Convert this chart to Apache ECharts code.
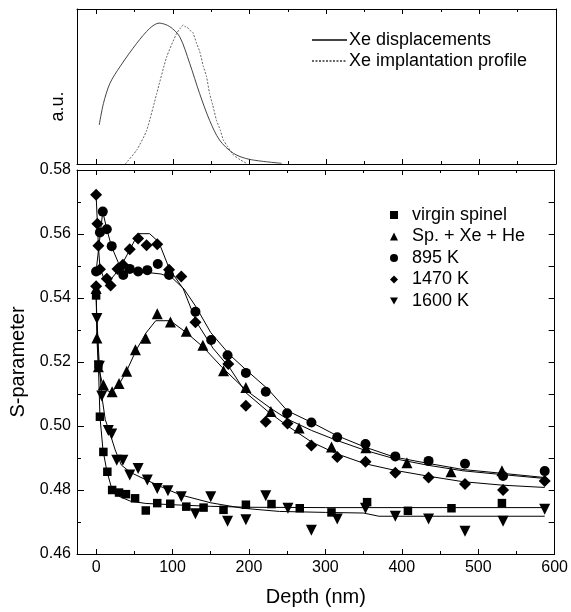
<!DOCTYPE html>
<html><head><meta charset="utf-8">
<script src="https://cdn.jsdelivr.net/npm/echarts@6/dist/echarts.min.js"></script>
<style>html,body{margin:0;padding:0;background:#fff}#c{width:571px;height:612px}</style>
</head><body><div id="c"></div>
<script>
// ---- data ----
const majorDepthTicks = [0, 100, 200, 300, 400, 500, 600];
const minorDepthTicks = [50, 150, 250, 350, 450, 550];

// top panel (arbitrary units) [depth nm, a.u.]
const xeDisplacements = [[4,0.277],[9.5,0.43],[18,0.573],[31,0.69],[53,0.857],[70,0.963],[82,1.0],[96,0.975],[109,0.903],[122,0.715],[135,0.50],[148,0.31],[161,0.17],[179,0.076],[200,0.033],[242,0.005]];
const xeImplantation = [[38,0],[53,0.10],[66,0.24],[79,0.50],[92,0.76],[105,0.927],[110,0.965],[113.7,0.987],[116,0.975],[119,0.97],[122,0.95],[126,0.935],[131,0.857],[135,0.80],[140,0.69],[144,0.62],[148,0.50],[152,0.42],[157,0.31],[162,0.24],[166,0.17],[172,0.12],[179,0.064],[188,0.03],[196,0.005]];

// bottom panel scatter [depth nm, S]
const virginSpinel = [[0,0.5408],[3,0.5192],[5,0.5029],[9.5,0.4919],[14.7,0.4857],[21,0.48],[30,0.4792],[39,0.4787],[51,0.4774],[65,0.4736],[80,0.4759],[97,0.4757],[118,0.4748],[140.6,0.4745],[166.7,0.4738],[196,0.4754],[229.5,0.4756],[266.5,0.4743],[308,0.473],[354.6,0.4762],[408,0.4735],[465,0.4743],[531,0.4759]];
const spXeHe = [[0,0.543],[1,0.5275],[3,0.5185],[9.5,0.5129],[21,0.5107],[30,0.5133],[40,0.5171],[51.5,0.5238],[65,0.5274],[80,0.5351],[97.3,0.5325],[118,0.5296],[139.7,0.5252],[166.7,0.5173],[196,0.512],[228.7,0.5045],[265.6,0.4994],[308,0.4934],[353,0.4932],[406.7,0.4885],[464.4,0.4857],[531,0.486]];
const k895 = [[0,0.5483],[5,0.5605],[8.7,0.567],[14,0.5615],[20.4,0.5562],[35.5,0.5472],[44,0.5491],[55,0.5483],[67,0.5487],[80.7,0.5506],[95.5,0.5472],[130,0.5357],[150.6,0.5269],[172,0.5221],[196,0.5166],[222,0.5107],[250,0.504],[281.7,0.5011],[315.5,0.4965],[352.5,0.4944],[391.5,0.4905],[435,0.4891],[482.7,0.4882],[532.5,0.4844],[587,0.4859]];
const k1470 = [[0,0.5723],[1.7,0.5632],[3,0.5563],[5,0.549],[0,0.5437],[14,0.546],[19,0.5439],[28,0.5491],[35,0.5504],[44,0.5552],[55,0.5586],[66,0.5565],[80,0.5568],[95.5,0.5488],[111.5,0.5467],[130,0.5324],[173,0.5194],[196,0.5063],[222,0.5013],[250.4,0.5008],[281.7,0.4939],[315.5,0.4903],[352.5,0.4888],[391.5,0.4854],[435,0.4839],[482.7,0.4819],[532.5,0.48],[587,0.4828]];
const k1600 = [[1,0.5336],[4.3,0.5187],[7.4,0.5094],[16,0.4986],[20.4,0.4975],[27,0.4893],[35,0.4893],[44,0.4847],[55,0.4867],[67,0.4831],[80,0.4805],[94,0.4798],[111.5,0.4779],[130,0.4726],[150,0.4779],[172,0.4702],[196,0.4707],[222,0.4782],[251,0.4743],[281.7,0.4674],[315.5,0.4709],[352.5,0.4743],[391.5,0.4718],[435,0.4709],[482.7,0.4671],[532.5,0.4702],[587,0.474]];

// fitted curves
const fitVirgin = [[0,0.5408],[3,0.5192],[5,0.503],[9,0.4925],[14,0.486],[20,0.4808],[30,0.478],[45,0.4765],[65,0.4758],[100,0.4754],[150,0.4749],[200,0.4746],[300,0.4745],[400,0.4745],[587,0.4745]];
const fitSpXeHe = [[0,0.543],[1,0.5275],[3,0.5185],[10,0.5115],[20,0.5105],[30,0.513],[40,0.5172],[52,0.5235],[65,0.529],[78,0.5329],[97,0.5329],[118,0.5292],[140,0.5247],[165,0.5183],[196,0.5112],[228,0.5056],[250,0.5022],[282,0.4986],[315,0.4955],[352,0.4924],[390,0.4898],[435,0.4877],[480,0.486],[532,0.4848],[587,0.4836]];
const fit895 = [[0,0.5483],[8.7,0.567],[14,0.5615],[20,0.5562],[30,0.5505],[40,0.5485],[55,0.548],[70,0.5479],[85,0.5475],[100,0.5462],[115,0.5428],[130,0.5375],[150,0.5292],[175,0.5222],[196,0.5176],[225,0.5115],[250,0.5048],[282,0.5011],[315,0.497],[352,0.4934],[390,0.4903],[435,0.4883],[480,0.4864],[532,0.4852],[587,0.4839]];
const fit1470 = [[0,0.5723],[1.7,0.5632],[3,0.5563],[5,0.5495],[10,0.5462],[15,0.5445],[25,0.5475],[35,0.551],[45,0.5555],[55,0.5601],[70,0.5601],[82,0.5575],[96,0.549],[114,0.5429],[131,0.5326],[153,0.5243],[175,0.5181],[196,0.5104],[225,0.5045],[250,0.5001],[282,0.495],[315,0.4913],[352,0.4882],[390,0.4862],[435,0.4843],[480,0.4826],[532,0.4815],[587,0.4808]];
const fit1600 = [[1,0.5336],[4.3,0.5187],[7.4,0.5094],[12,0.502],[18,0.4978],[25,0.4925],[33,0.4878],[45,0.4855],[66,0.4831],[90,0.4805],[110,0.4785],[150,0.476],[192,0.4743],[240,0.4733],[300,0.473],[350,0.4728],[370,0.4718],[587,0.4718]];

// ---- chart ----
const FONT = 'Liberation Sans';
const black = '#000';
const DOWN_TRIANGLE = 'path://M0,0 L10,0 L5,9 Z';
const chart = echarts.init(document.getElementById('c'), null, {renderer: 'canvas'});

function depthAxis(grid, position, ticks, len, line, labels) {
  return {
    type: 'value', gridIndex: grid, position: position, min: -25, max: 600,
    axisLine: {show: line, onZero: false, lineStyle: {color: black, width: 1}},
    axisTick: {show: true, inside: true, length: len, customValues: ticks, lineStyle: {color: black, width: 1}},
    axisLabel: labels ? {show: true, customValues: ticks, color: black, fontSize: 16, fontFamily: FONT, margin: 6} : {show: false},
    splitLine: {show: false}
  };
}

const xAxes = [
  depthAxis(0, 'bottom', majorDepthTicks, 5, true, false),
  depthAxis(0, 'bottom', minorDepthTicks, 3, false, false),
  depthAxis(0, 'top', majorDepthTicks, 5, true, false),
  depthAxis(0, 'top', minorDepthTicks, 3, false, false),
  Object.assign(depthAxis(1, 'bottom', majorDepthTicks, 5, true, true), {
    name: 'Depth (nm)', nameLocation: 'middle', nameGap: 33,
    nameTextStyle: {color: black, fontSize: 20, fontFamily: FONT}
  }),
  depthAxis(1, 'bottom', minorDepthTicks, 3, false, false),
  depthAxis(1, 'top', majorDepthTicks, 5, true, false),
  depthAxis(1, 'top', minorDepthTicks, 3, false, false)
];

const yAxes = [
  {type: 'value', gridIndex: 0, position: 'left', min: 0, max: 1.1,
   axisLine: {show: true, onZero: false, lineStyle: {color: black}}, axisTick: {show: false}, axisLabel: {show: false}, splitLine: {show: false},
   name: 'a.u.', nameLocation: 'middle', nameGap: 10, nameRotate: 90,
   nameTextStyle: {color: black, fontSize: 18, fontFamily: FONT, padding: [0, 40, 0, 0]}},
  {type: 'value', gridIndex: 0, position: 'right', min: 0, max: 1.1,
   axisLine: {show: true, onZero: false, lineStyle: {color: black}}, axisTick: {show: false}, axisLabel: {show: false}, splitLine: {show: false}},
  {type: 'value', gridIndex: 1, position: 'left', min: 0.46, max: 0.58, interval: 0.02,
   axisLine: {show: true, onZero: false, lineStyle: {color: black}},
   axisTick: {show: true, inside: true, length: 7, lineStyle: {color: black}},
   minorTick: {show: true, splitNumber: 2, length: 4, lineStyle: {color: black}},
   axisLabel: {color: black, fontSize: 16, fontFamily: FONT, margin: 6, formatter: v => v.toFixed(2)},
   splitLine: {show: false},
   name: 'S-parameter', nameLocation: 'middle', nameGap: 44, nameRotate: 90,
   nameTextStyle: {color: black, fontSize: 20, fontFamily: FONT}},
  {type: 'value', gridIndex: 1, position: 'right', min: 0.46, max: 0.58, interval: 0.01,
   axisLine: {show: true, onZero: false, lineStyle: {color: black}},
   axisTick: {show: true, inside: true, length: 6, lineStyle: {color: black}},
   axisLabel: {show: false}, splitLine: {show: false}}
];

function scatter(name, data, symbol, size) {
  return {type: 'scatter', name: name, data: data, xAxisIndex: 4, yAxisIndex: 2,
    symbol: symbol, symbolSize: size,
    itemStyle: {color: black, opacity: 1}, z: 3};
}
function fit(name, data) {
  return {type: 'line', name: name, data: data, xAxisIndex: 4, yAxisIndex: 2,
    symbol: 'none', lineStyle: {color: black, width: 1}, z: 2, silent: true};
}

const option = {
  animation: false,
  backgroundColor: '#fff',
  grid: [
    {left: 77, right: 15, top: 9, height: 155},
    {left: 77, right: 15, top: 170, height: 388}
  ],
  xAxis: xAxes,
  yAxis: yAxes,
  legend: [
    {data: ['Xe displacements', 'Xe implantation profile'], orient: 'vertical', left: 306, top: 26,
     itemWidth: 35, itemHeight: 10, itemGap: 3, selectedMode: false,
     itemStyle: {opacity: 0},
     textStyle: {color: black, fontSize: 18, fontFamily: FONT, padding: [0, 0, 0, -3]}},
    {data: ['virgin spinel', 'Sp. + Xe + He', '895 K', '1470 K', '1600 K'], orient: 'vertical', left: 385, top: 201,
     itemWidth: 8, itemHeight: 8, itemGap: 3.5, selectedMode: false,
     textStyle: {color: black, fontSize: 18, fontFamily: FONT, padding: [0, 0, 0, 9]}}
  ],
  series: [
    {type: 'line', name: 'Xe displacements', data: xeDisplacements, xAxisIndex: 0, yAxisIndex: 0,
     symbol: 'none', smooth: 0.3, itemStyle: {color: '#444'}, lineStyle: {color: '#444', width: 1}},
    {type: 'line', name: 'Xe implantation profile', data: xeImplantation, xAxisIndex: 0, yAxisIndex: 0,
     symbol: 'none', smooth: 0.2, itemStyle: {color: '#666'}, lineStyle: {color: '#666', width: 1, type: [2, 1.5]}},
    fit('fit virgin', fitVirgin),
    fit('fit sp', fitSpXeHe),
    fit('fit 895', fit895),
    fit('fit 1470', fit1470),
    fit('fit 1600', fit1600),
    scatter('virgin spinel', virginSpinel, 'rect', 8.5),
    scatter('Sp. + Xe + He', spXeHe, 'triangle', 11),
    scatter('895 K', k895, 'circle', 10),
    scatter('1470 K', k1470, 'diamond', 12),
    scatter('1600 K', k1600, DOWN_TRIANGLE, 11)
  ]
};
chart.setOption(option);
</script>
</body></html>
